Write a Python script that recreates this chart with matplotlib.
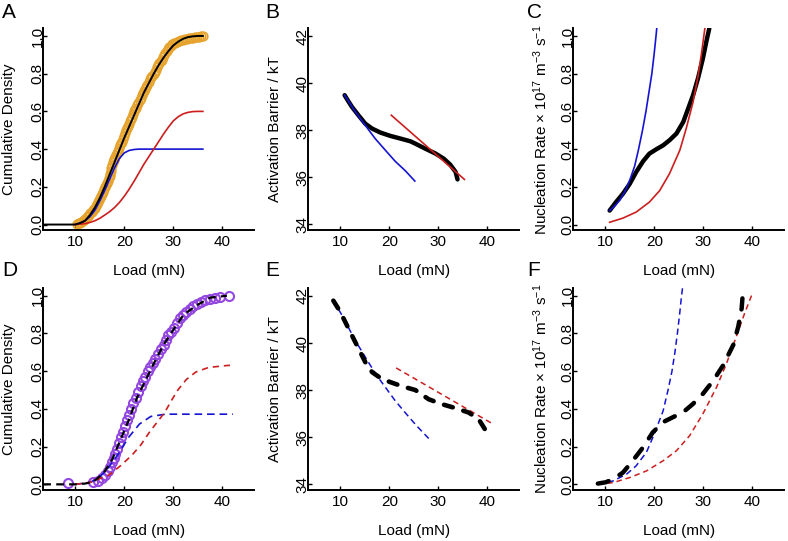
import matplotlib
matplotlib.use('Agg')
import matplotlib.pyplot as plt

plt.rcParams['font.family'] = ['Liberation Sans', 'DejaVu Sans']
plt.rcParams['mathtext.fontset'] = 'custom'
plt.rcParams['mathtext.rm'] = 'Liberation Sans'
plt.rcParams['mathtext.it'] = 'Liberation Sans:italic'
plt.rcParams['mathtext.bf'] = 'Liberation Sans:bold'
plt.rcParams['lines.scale_dashes'] = False

# ---------------- data ----------------
x_ticks = [10, 20, 30, 40]
x_ticklabels = ['10', '20', '30', '40']
cdf_ticks = [0.0, 0.2, 0.4, 0.6, 0.8, 1.0]
cdf_ticklabels = ['0.0', '0.2', '0.4', '0.6', '0.8', '1.0']
barrier_ticks = [34, 36, 38, 40, 42]
barrier_ticklabels = ['34', '36', '38', '40', '42']

xlabel = 'Load (mN)'
ylabel_cdf = 'Cumulative Density'
ylabel_barrier = 'Activation Barrier / kT'
ylabel_rate = r'Nucleation Rate $\times$ 10$^{17}$ m$^{-3}$ s$^{-1}$'
panel_letters = ['A', 'B', 'C', 'D', 'E', 'F']

# Panel A
a_data_x = [10.4, 10.7, 10.9, 11.2, 11.5, 11.8, 12.0, 12.3, 12.6, 12.9, 13.1, 13.4, 13.6, 13.8,
            14.0, 14.3, 14.5, 14.7, 14.9, 15.1, 15.3, 15.5, 15.7, 15.9, 16.0, 16.2, 16.4, 16.6,
            16.8, 17.0, 17.1, 17.2, 17.3, 17.5, 17.6, 17.8, 17.9, 18.1, 18.3, 18.5, 18.7, 18.9,
            19.1, 19.3, 19.5, 19.7, 19.9, 20.1, 20.3, 20.5, 20.7, 20.9, 21.1, 21.3, 21.5, 21.7,
            21.9, 22.1, 22.3, 22.6, 22.8, 23.1, 23.3, 23.6, 23.8, 24.0, 24.2, 24.5, 24.7, 25.0,
            25.2, 25.5, 25.7, 26.0, 26.2, 26.4, 26.6, 26.9, 27.1, 27.4, 27.6, 27.8, 28.0, 28.3,
            28.6, 28.9, 29.1, 29.5, 29.8, 30.1, 30.4, 30.8, 31.2, 31.6, 32.0, 32.4, 32.8, 33.2,
            33.6, 34.0, 34.5, 34.9, 35.3, 35.7, 36.0]
a_data_y = [0.005, 0.008, 0.01, 0.015, 0.02, 0.025, 0.03, 0.038, 0.045, 0.052, 0.06, 0.068,
            0.075, 0.082, 0.09, 0.1, 0.11, 0.12, 0.13, 0.14, 0.15, 0.162, 0.175, 0.188, 0.2,
            0.21, 0.22, 0.232, 0.245, 0.258, 0.27, 0.285, 0.3, 0.315, 0.33, 0.34, 0.35, 0.36,
            0.37, 0.38, 0.39, 0.405, 0.42, 0.43, 0.44, 0.455, 0.47, 0.485, 0.5, 0.51, 0.52,
            0.535, 0.55, 0.56, 0.57, 0.585, 0.6, 0.61, 0.62, 0.632, 0.645, 0.658, 0.67, 0.685,
            0.7, 0.71, 0.72, 0.73, 0.74, 0.755, 0.77, 0.78, 0.79, 0.8, 0.81, 0.822, 0.835, 0.845,
            0.855, 0.865, 0.875, 0.888, 0.9, 0.91, 0.92, 0.93, 0.94, 0.948, 0.955, 0.96, 0.965,
            0.97, 0.975, 0.978, 0.98, 0.982, 0.985, 0.988, 0.99, 0.991, 0.993, 0.995, 0.997,
            0.999, 1.0]
a_fit_x = [3.5, 10, 11, 12, 13, 14, 15, 16, 17, 18, 19, 20, 21, 22, 23, 24, 25, 26, 27, 28, 29,
           30, 31, 32, 33, 34, 35, 36]
a_fit_y = [0.0, 0.0, 0.008, 0.02, 0.05, 0.09, 0.14, 0.2, 0.265, 0.33, 0.395, 0.46, 0.52, 0.58,
           0.64, 0.70, 0.75, 0.80, 0.845, 0.885, 0.92, 0.95, 0.97, 0.985, 0.994, 0.998, 1.0, 1.0]
a_blue_x = [10, 11, 12, 13, 14, 15, 16, 17, 18, 19, 20, 21, 22, 23, 24, 36]
a_blue_y = [0.0, 0.008, 0.02, 0.042, 0.075, 0.125, 0.18, 0.24, 0.3, 0.35, 0.38, 0.393, 0.398,
            0.4, 0.4, 0.4]
a_red_x = [10, 11, 12, 13, 14, 15, 16, 17, 18, 19, 20, 21, 22, 23, 24, 25, 26, 27, 28, 29, 30,
           31, 32, 33, 34, 35, 36]
a_red_y = [0.0, 0.002, 0.005, 0.011, 0.02, 0.033, 0.05, 0.068, 0.09, 0.117, 0.15, 0.188, 0.23,
           0.275, 0.32, 0.36, 0.40, 0.44, 0.48, 0.517, 0.55, 0.572, 0.587, 0.595, 0.599, 0.6, 0.6]

# Panel B
b_fit_x = [10.9, 11.6, 12.4, 13.7, 15.1, 16.5, 18.2, 20.2, 22.2, 24.3, 25.3, 27.3, 29.4, 31.1,
           32.4, 33.5, 33.9]
b_fit_y = [39.49, 39.25, 38.99, 38.64, 38.28, 38.07, 37.90, 37.76, 37.65, 37.53, 37.43, 37.22,
           37.01, 36.79, 36.54, 36.23, 35.91]
b_blue_x = [10.9, 13.1, 15.1, 17.1, 19.2, 21.2, 23.3, 25.2]
b_blue_y = [39.49, 38.78, 38.21, 37.65, 37.15, 36.68, 36.27, 35.84]
b_red_x = [20.4, 35.3]
b_red_y = [38.64, 35.91]

# Panel C
c_fit_x = [10.9, 12.2, 13.6, 15.0, 16.3, 17.7, 19.0, 20.4, 21.8, 23.1, 24.5, 25.9, 26.9, 27.9,
           28.9, 29.9, 30.6, 31.2]
c_fit_y = [0.074, 0.119, 0.163, 0.216, 0.278, 0.335, 0.376, 0.399, 0.42, 0.447, 0.482, 0.544,
           0.615, 0.686, 0.775, 0.881, 0.97, 1.04]
c_blue_x = [10.9, 12.0, 13.0, 14.0, 15.0, 16.0, 16.8, 17.6, 18.3, 18.9, 19.5, 19.95, 20.35, 20.5]
c_blue_y = [0.074, 0.1, 0.13, 0.175, 0.235, 0.31, 0.4, 0.5, 0.6, 0.7, 0.8, 0.9, 1.0, 1.04]
c_red_x = [10.9, 13.6, 16.3, 19.0, 21.1, 23.1, 25.2, 26.5, 27.9, 28.9, 29.6, 30.3]
c_red_y = [0.012, 0.034, 0.066, 0.119, 0.18, 0.27, 0.394, 0.509, 0.65, 0.785, 0.905, 1.04]

# Panel D
d_data_x = [8.6, 13.7, 14.6, 15.4, 16.1, 16.7, 17.1, 17.5, 17.8, 18.2, 18.6, 19.0, 19.4, 19.8,
            20.2, 20.6, 21.0, 21.4, 21.8, 22.3, 22.8, 23.3, 23.8, 24.3, 24.8, 25.3, 25.8, 26.3,
            26.8, 27.4, 28.0, 28.5, 29.0, 29.6, 30.2, 30.8, 31.4, 32.0, 32.6, 33.3, 34.0, 34.8,
            35.6, 36.5, 37.4, 38.4, 39.5, 41.4]
d_data_y = [0.005, 0.01, 0.02, 0.035, 0.05, 0.07, 0.09, 0.12, 0.14, 0.16, 0.19, 0.22, 0.25, 0.28,
            0.31, 0.34, 0.37, 0.40, 0.43, 0.46, 0.49, 0.52, 0.55, 0.57, 0.60, 0.62, 0.645, 0.665,
            0.69, 0.715, 0.74, 0.765, 0.79, 0.81, 0.83, 0.855, 0.88, 0.90, 0.915, 0.93, 0.945,
            0.955, 0.965, 0.975, 0.985, 0.99, 0.995, 1.0]
d_fit_x = [3.5, 10.0, 12.0, 13.7, 15.8, 17.5, 19.2, 20.9, 22.6, 24.3, 26.0, 28.0, 30.0, 32.1,
           34.8, 37.5, 40.9]
d_fit_y = [0.0, 0.0, 0.004, 0.014, 0.06, 0.13, 0.235, 0.34, 0.46, 0.55, 0.64, 0.74, 0.82, 0.90,
           0.95, 0.99, 1.0]
d_blue_x = [10, 13, 14.8, 16.3, 18.5, 20.9, 23.1, 25.4, 28.4, 42.1]
d_blue_y = [0.0, 0.01, 0.035, 0.073, 0.15, 0.25, 0.32, 0.36, 0.372, 0.372]
d_red_x = [10, 13, 15, 16.9, 19.3, 21.6, 23.4, 25.1, 26.7, 28.2, 29.5, 30.9, 32.6, 34.6, 37.2,
           40.9, 42.1]
d_red_y = [0.0, 0.01, 0.03, 0.05, 0.10, 0.156, 0.21, 0.276, 0.33, 0.38, 0.44, 0.50, 0.555, 0.596,
           0.62, 0.63, 0.632]

# Panel E
e_fit_x = [8.6, 10.0, 11.7, 13.4, 15.1, 16.5, 17.8, 19.9, 22.6, 25.3, 28.0, 30.7, 33.5, 36.2,
           38.2, 39.7]
e_fit_y = [41.8, 41.33, 40.61, 39.9, 39.19, 38.76, 38.57, 38.36, 38.16, 38.0, 37.61, 37.4,
           37.23, 37.04, 36.76, 36.26]
e_blue_x = [8.6, 10.34, 13.06, 15.78, 17.48, 21.22, 23.27, 25.65, 28.03]
e_blue_y = [41.8, 41.19, 40.11, 39.17, 38.61, 37.54, 37.03, 36.46, 35.94]
e_red_x = [21.4, 41.0]
e_red_y = [38.94, 36.57]

# Panel F
f_fit_x = [8.5, 10.1, 11.6, 13.6, 15.6, 17.7, 19.7, 21.8, 23.8, 25.9, 27.9, 29.9, 32.0, 34.0,
           36.1, 37.1, 37.8, 38.1]
f_fit_y = [0.004, 0.011, 0.027, 0.062, 0.125, 0.196, 0.276, 0.33, 0.356, 0.383, 0.427, 0.48,
           0.55, 0.63, 0.74, 0.836, 0.934, 1.036]
f_blue_x = [8.5, 11.6, 14.3, 16.3, 18.4, 20.0, 21.8, 22.8, 23.6, 24.2, 24.7, 25.15, 25.55, 25.75]
f_blue_y = [0.0, 0.018, 0.053, 0.098, 0.17, 0.267, 0.39, 0.5, 0.6, 0.7, 0.8, 0.9, 1.0, 1.04]
f_red_x = [8.5, 11.6, 15.0, 18.4, 21.8, 24.5, 27.2, 29.9, 32.7, 34.7, 36.7, 38.4, 40.0]
f_red_y = [0.0, 0.009, 0.036, 0.071, 0.125, 0.178, 0.258, 0.374, 0.516, 0.64, 0.783, 0.907, 1.014]

# ---------------- styling ----------------
BLUE = '#1414d2'
RED = '#cc1e1e'
ORANGE = '#e6a42e'
PURPLE = '#9448e0'

W, H = 788, 541
fig = plt.figure(figsize=(W / 100, H / 100), dpi=100)

XLIM = (3.5, 46.4)
CDF_LIM = (-0.03, 1.04)
BAR_LIM = (33.75, 42.33)
AX_W, AX_H = 210.6, 201.8
lefts = [43.3, 308.3, 573.3]
tops = [28.4, 288.2]


def make_ax(col, row):
    l, t = lefts[col], tops[row]
    return fig.add_axes([l / W, 1 - (t + AX_H) / H, AX_W / W, AX_H / H])


def style(ax, ylim, yticks, yticklabels, ylabel, ylab_x):
    ax.set_xlim(*XLIM)
    ax.set_ylim(*ylim)
    for s in ['top', 'right']:
        ax.spines[s].set_visible(False)
    for s in ['left', 'bottom']:
        ax.spines[s].set_linewidth(1.4)
    ax.set_xticks(x_ticks)
    ax.set_xticklabels(x_ticklabels)
    ax.set_yticks(yticks)
    ax.set_yticklabels(yticklabels, rotation=90, va='center')
    ax.tick_params(direction='in', length=3, width=1, labelsize=11)
    ax.tick_params(axis='x', pad=3.5)
    ax.tick_params(axis='y', pad=-1)
    ax.set_xlabel(xlabel, fontsize=11)
    ax.xaxis.label.set_va('baseline')
    ax.xaxis.set_label_coords(0.5, -45 / AX_H)
    ax.set_ylabel(ylabel, fontsize=11)
    ax.yaxis.label.set_va('baseline')
    ax.yaxis.set_label_coords(ylab_x, 0.5)


axA = make_ax(0, 0)
axB = make_ax(1, 0)
axC = make_ax(2, 0)
axD = make_ax(0, 1)
axE = make_ax(1, 1)
axF = make_ax(2, 1)

# A
axA.plot(a_data_x, a_data_y, 'o', mfc='none', mec=ORANGE, ms=6.2, mew=1.2, zorder=2)
axA.plot(a_blue_x, a_blue_y, color=BLUE, lw=1.2, zorder=3)
axA.plot(a_red_x, a_red_y, color=RED, lw=1.2, zorder=3)
axA.plot(a_fit_x, a_fit_y, color='black', lw=1.4, zorder=4)
style(axA, CDF_LIM, cdf_ticks, cdf_ticklabels, ylabel_cdf, -0.1425)

# B
axB.plot(b_blue_x, b_blue_y, color=BLUE, lw=1.2, zorder=3)
axB.plot(b_red_x, b_red_y, color=RED, lw=1.2, zorder=3)
axB.plot(b_fit_x, b_fit_y, color='black', lw=3.2, solid_capstyle='round', zorder=2)
style(axB, BAR_LIM, barrier_ticks, barrier_ticklabels, ylabel_barrier, -0.1415)

# C
axC.plot(c_fit_x, c_fit_y, color='black', lw=3.2, solid_capstyle='round', zorder=2)
axC.plot(c_blue_x, c_blue_y, color=BLUE, lw=1.2, zorder=3)
axC.plot(c_red_x, c_red_y, color=RED, lw=1.2, zorder=3)
style(axC, CDF_LIM, cdf_ticks, cdf_ticklabels, ylabel_rate, -0.1235)

# D
axD.plot(d_data_x, d_data_y, 'o', mfc='none', mec=PURPLE, ms=6.5, mew=1.5, zorder=2)
axD.plot(d_blue_x, d_blue_y, color=BLUE, lw=1.2, dashes=(5.5, 3.5), zorder=3)
axD.plot(d_red_x, d_red_y, color=RED, lw=1.2, dashes=(4.5, 3.5), zorder=3)
axD.plot(d_fit_x, d_fit_y, color='black', lw=1.6, dashes=(5.5, 3.8), zorder=4)
style(axD, CDF_LIM, cdf_ticks, cdf_ticklabels, ylabel_cdf, -0.1425)

# E
axE.plot(e_blue_x, e_blue_y, color=BLUE, lw=1.1, dashes=(4.5, 2.8), zorder=2)
axE.plot(e_red_x, e_red_y, color=RED, lw=1.1, dashes=(4.0, 2.8), zorder=2)
axE.plot(e_fit_x, e_fit_y, color='black', lw=3.3, dashes=(6.5, 8.0),
         dash_capstyle='round', zorder=3)
style(axE, BAR_LIM, barrier_ticks, barrier_ticklabels, ylabel_barrier, -0.1415)

# F
axF.plot(f_blue_x, f_blue_y, color=BLUE, lw=1.1, dashes=(4.5, 2.8), zorder=2)
axF.plot(f_red_x, f_red_y, color=RED, lw=1.1, dashes=(4.0, 2.8), zorder=2)
axF.plot(f_fit_x, f_fit_y, color='black', lw=3.2, dashes=(8.0, 9.0),
         dash_capstyle='round', zorder=3)
style(axF, CDF_LIM, cdf_ticks, cdf_ticklabels, ylabel_rate, -0.1235)

# panel letters
letter_pos = [(2, 18), (265, 18), (527, 18), (2, 276), (265, 276), (527, 276)]
for letter, (px, py) in zip(panel_letters, letter_pos):
    fig.text(px / W, 1 - py / H, letter, fontsize=15, ha='left', va='baseline')

fig.savefig('out.png', dpi=100)
